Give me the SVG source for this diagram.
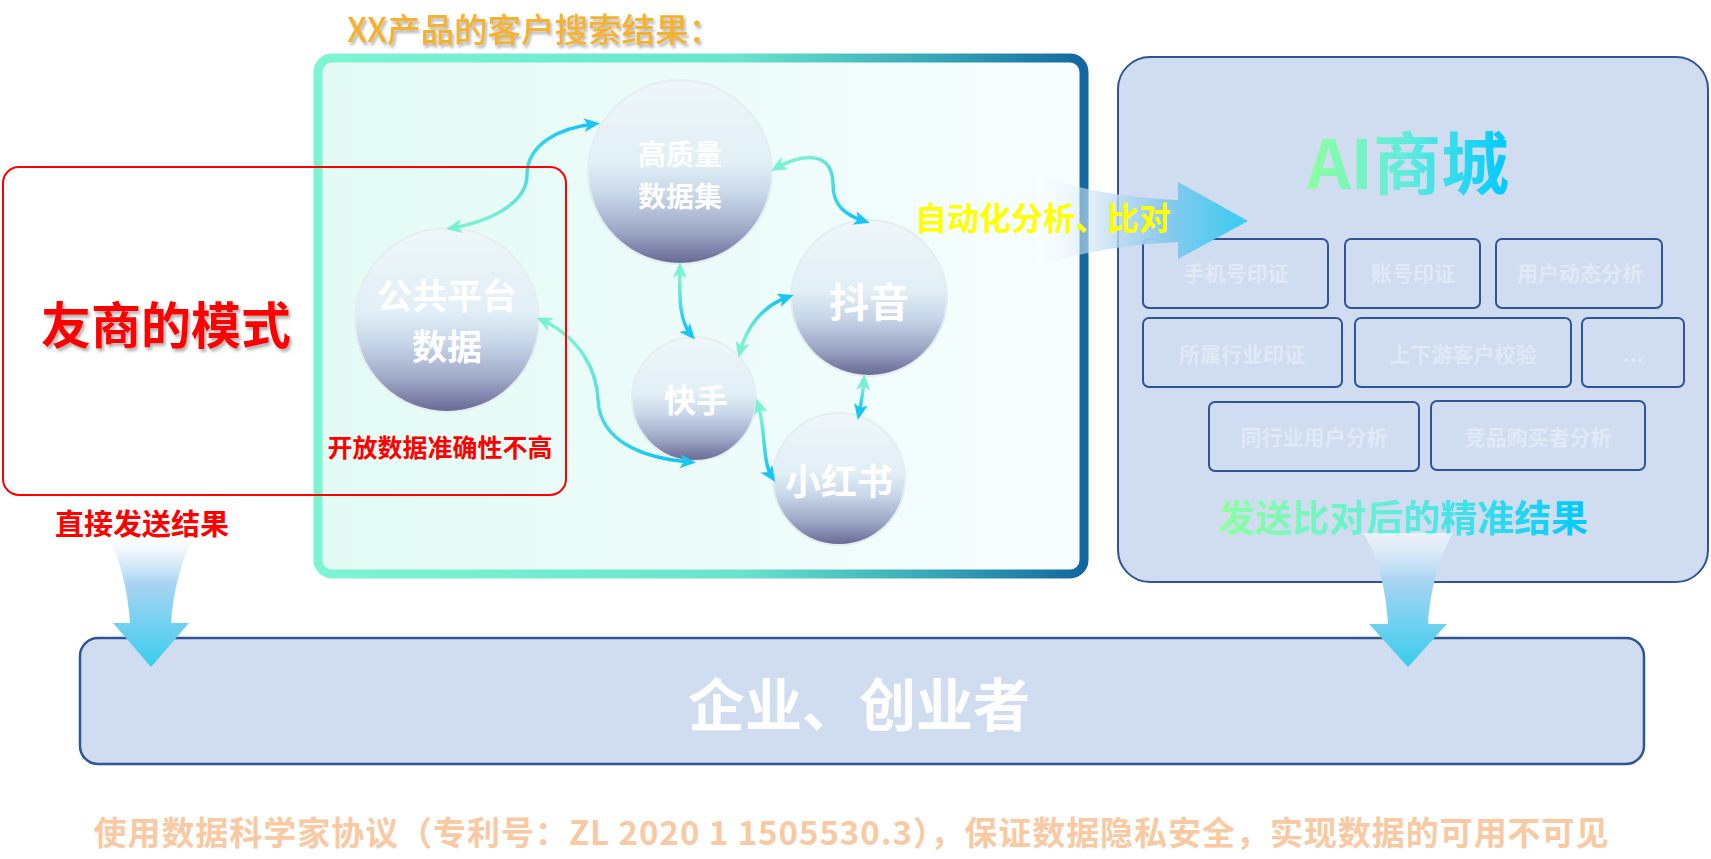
<svg xmlns="http://www.w3.org/2000/svg" width="1711" height="859" viewBox="0 0 1711 859">
<style>
.cj{font-family:"Noto Sans CJK SC","Noto Sans",sans-serif;}
.b{font-weight:700;}
.ct{text-anchor:middle;}
.node-t{fill:#ffffff;font-weight:700;text-anchor:middle;}
.sub{fill:none;stroke:#2F5597;stroke-width:2;}
.sub-t{fill:#E1E9F5;font-size:21px;font-weight:700;text-anchor:middle;}
.conn{fill:none;stroke-width:3.5;marker-start:url(#mMint);marker-end:url(#mCyan);}
.ball{stroke:#E6EDF1;stroke-width:2;fill:url(#gBall);}
</style>
<defs>
<linearGradient id="gFrameStroke" x1="0" y1="0" x2="1" y2="0">
<stop offset="0" stop-color="#7DF5D2"/><stop offset="0.55" stop-color="#6BE3CC"/><stop offset="0.8" stop-color="#3AA8B8"/><stop offset="1" stop-color="#12679E"/>
</linearGradient>
<linearGradient id="gFrameFill" x1="0" y1="0" x2="1" y2="0">
<stop offset="0" stop-color="#E3FBF4"/><stop offset="0.6" stop-color="#EEFCFB"/><stop offset="1" stop-color="#F8FDFF"/>
</linearGradient>
<linearGradient id="gBall" x1="0" y1="0" x2="0" y2="1">
<stop offset="0" stop-color="#EEF6F9"/><stop offset="0.45" stop-color="#E2EFF6"/><stop offset="0.62" stop-color="#C8D7E9"/><stop offset="0.82" stop-color="#9EA8C7"/><stop offset="1" stop-color="#676893"/>
</linearGradient>
<linearGradient id="gAI" x1="0" y1="0" x2="1" y2="0">
<stop offset="0" stop-color="#8DFFA0"/><stop offset="0.5" stop-color="#5FEBDD"/><stop offset="1" stop-color="#00C8FF"/>
</linearGradient>
<linearGradient id="gHArrow" gradientUnits="userSpaceOnUse" x1="1035" y1="0" x2="1248" y2="0">
<stop offset="0" stop-color="#FFFFFF" stop-opacity="0.2"/><stop offset="0.3" stop-color="#C8E2F4" stop-opacity="0.7"/><stop offset="0.6" stop-color="#8EC9EE"/><stop offset="1" stop-color="#34CDEF"/>
</linearGradient>
<linearGradient id="gVArrow" x1="0" y1="0" x2="0" y2="1">
<stop offset="0" stop-color="#FFFFFF" stop-opacity="0.6"/><stop offset="0.35" stop-color="#A9D4F2"/><stop offset="1" stop-color="#38CDEE"/>
</linearGradient>
<linearGradient id="gc1" gradientUnits="userSpaceOnUse" x1="452" y1="228" x2="594" y2="124"><stop offset="0.2" stop-color="#7AF0D2"/><stop offset="0.9" stop-color="#17C6F2"/></linearGradient>
<linearGradient id="gc2" gradientUnits="userSpaceOnUse" x1="776" y1="168" x2="864" y2="221"><stop offset="0.2" stop-color="#7AF0D2"/><stop offset="0.9" stop-color="#17C6F2"/></linearGradient>
<linearGradient id="gc3" gradientUnits="userSpaceOnUse" x1="542" y1="320" x2="690" y2="462"><stop offset="0.2" stop-color="#7AF0D2"/><stop offset="0.9" stop-color="#17C6F2"/></linearGradient>
<linearGradient id="gc4" gradientUnits="userSpaceOnUse" x1="680" y1="268" x2="691" y2="335"><stop offset="0.2" stop-color="#7AF0D2"/><stop offset="0.9" stop-color="#17C6F2"/></linearGradient>
<linearGradient id="gc5" gradientUnits="userSpaceOnUse" x1="740" y1="352" x2="788" y2="297"><stop offset="0.2" stop-color="#7AF0D2"/><stop offset="0.9" stop-color="#17C6F2"/></linearGradient>
<linearGradient id="gc6" gradientUnits="userSpaceOnUse" x1="864" y1="380" x2="859" y2="414"><stop offset="0.2" stop-color="#7AF0D2"/><stop offset="0.9" stop-color="#17C6F2"/></linearGradient>
<linearGradient id="gc7" gradientUnits="userSpaceOnUse" x1="758" y1="404" x2="772" y2="477"><stop offset="0.2" stop-color="#7AF0D2"/><stop offset="0.9" stop-color="#17C6F2"/></linearGradient>
<marker id="mMint" markerUnits="userSpaceOnUse" markerWidth="16" markerHeight="14" refX="10" refY="7" orient="auto-start-reverse" viewBox="0 0 16 14">
<path d="M0,0 L16,7 L0,14 L4,7 Z" fill="#7AF0D2"/>
</marker>
<marker id="mCyan" markerUnits="userSpaceOnUse" markerWidth="16" markerHeight="14" refX="10" refY="7" orient="auto" viewBox="0 0 16 14">
<path d="M0,0 L16,7 L0,14 L4,7 Z" fill="#17C6F2"/>
</marker>
<filter id="shadow" x="-10%" y="-20%" width="120%" height="150%">
<feDropShadow dx="2" dy="3" stdDeviation="1.5" flood-color="#777777" flood-opacity="0.55"/>
</filter>
</defs>

<g id="search-frame">
<rect x="318" y="58" width="766" height="516" rx="14" fill="url(#gFrameFill)" stroke="url(#gFrameStroke)" stroke-width="9"/>
<text class="cj" x="347" y="42" font-size="33.5" font-weight="500" fill="#F6B22B" filter="url(#shadow)">XX产品的客户搜索结果：</text>
</g>

<g id="node-gaozhiliang">
<circle class="ball" cx="680" cy="172" r="92"/>
<text class="cj node-t" font-size="28"><tspan x="680" y="165">高质量</tspan><tspan x="680" y="207">数据集</tspan></text>
</g>
<g id="node-gonggong">
<circle class="ball" cx="447" cy="320" r="92"/>
<text class="cj node-t" font-size="35"><tspan x="447" y="309">公共平台</tspan><tspan x="447" y="360">数据</tspan></text>
</g>
<g id="node-douyin">
<circle class="ball" cx="869" cy="298" r="78"/>
<text class="cj node-t" x="869" y="317" font-size="40">抖音</text>
</g>
<g id="node-kuaishou">
<circle class="ball" cx="694" cy="399" r="62"/>
<text class="cj node-t" x="696" y="412" font-size="32">快手</text>
</g>
<g id="node-xiaohongshu">
<circle class="ball" cx="839" cy="479" r="66"/>
<text class="cj node-t" x="839" y="495" font-size="36">小红书</text>
</g>

<g id="connectors">
<path class="conn" stroke="url(#gc1)" d="M452,228 C497,220 527,200 527,175 C527,145 558,128 594,124"/>
<path class="conn" stroke="url(#gc2)" d="M776,168 C805,152 833,152 833,185 C833,205 845,215 864,221"/>
<path class="conn" stroke="url(#gc3)" d="M542,320 C580,338 597,370 598,400 C600,440 640,458 690,462"/>
<path class="conn" stroke="url(#gc4)" d="M680,268 C679,300 680,322 691,335"/>
<path class="conn" stroke="url(#gc5)" d="M740,352 C746,328 762,306 788,297"/>
<path class="conn" stroke="url(#gc6)" d="M864,380 C863,392 861,404 859,414"/>
<path class="conn" stroke="url(#gc7)" d="M758,404 C766,430 762,462 772,477"/>
</g>

<g id="competitor-mode">
<rect x="3" y="167" width="563" height="328" rx="16" fill="none" stroke="#FF0000" stroke-width="2"/>
<text class="cj b ct" x="166" y="344" font-size="50" fill="#FF0000" filter="url(#shadow)">友商的模式</text>
<text class="cj b ct" x="440" y="457" font-size="25" fill="#FF0000">开放数据准确性不高</text>
</g>

<g id="ai-mall">
<rect x="1118" y="57" width="590" height="525" rx="32" fill="#D0DDF0" stroke="#2F5597" stroke-width="2"/>
<text class="cj b ct" x="1408" y="189" font-size="68" fill="url(#gAI)">AI商城</text>
<rect class="sub" x="1143" y="239" width="185" height="69" rx="6"/>
<text class="cj sub-t" x="1236" y="281">手机号印证</text>
<rect class="sub" x="1345" y="239" width="135" height="69" rx="6"/>
<text class="cj sub-t" x="1413" y="281">账号印证</text>
<rect class="sub" x="1496" y="239" width="166" height="69" rx="6"/>
<text class="cj sub-t" x="1580" y="281">用户动态分析</text>
<rect class="sub" x="1143" y="318" width="199" height="69" rx="6"/>
<text class="cj sub-t" x="1242" y="362">所属行业印证</text>
<rect class="sub" x="1355" y="318" width="216" height="69" rx="6"/>
<text class="cj sub-t" x="1463" y="362">上下游客户校验</text>
<rect class="sub" x="1582" y="318" width="102" height="69" rx="6"/>
<text class="cj sub-t" x="1633" y="362">...</text>
<rect class="sub" x="1209" y="402" width="210" height="69" rx="6"/>
<text class="cj sub-t" x="1314" y="445">同行业用户分析</text>
<rect class="sub" x="1431" y="401" width="214" height="69" rx="6"/>
<text class="cj sub-t" x="1538" y="445">竞品购买者分析</text>
<text class="cj b ct" x="1403" y="532" font-size="37" fill="url(#gAI)">发送比对后的精准结果</text>
</g>

<g id="analysis-arrow">
<path d="M1035,175 C1080,190 1130,198 1178,200 L1178,182 L1248,221 L1178,259 L1178,242 C1130,244 1080,252 1035,267 Z" fill="url(#gHArrow)"/>
<text class="cj b" x="915" y="230" font-size="32" fill="#FFFF00">自动化分析、比对</text>
</g>

<g id="enterprise">
<rect x="80" y="638" width="1564" height="126" rx="18" fill="#D0DDF0" stroke="#2F5597" stroke-width="2.5"/>
<text class="cj b ct" x="859" y="726" font-size="57" fill="#FFFFFF">企业、创业者</text>
</g>

<g id="send-arrows">
<path d="M109,538 C120,560 128,590 130,623 L113,623 L151,667 L189,623 L171,623 C173,590 182,560 193,538 Z" fill="url(#gVArrow)"/>
<path d="M1363,533 C1378,555 1386,590 1388,624 L1369,624 L1408,667 L1447,624 L1428,624 C1430,590 1440,555 1453,533 Z" fill="url(#gVArrow)"/>
<text class="cj b ct" x="142" y="535" font-size="29" fill="#FF0000">直接发送结果</text>
</g>

<text class="cj b ct" x="851" y="845" font-size="33" fill="#F8C9A2" textLength="1515" lengthAdjust="spacing">使用数据科学家协议（专利号：ZL 2020 1 1505530.3），保证数据隐私安全，实现数据的可用不可见</text>
</svg>
